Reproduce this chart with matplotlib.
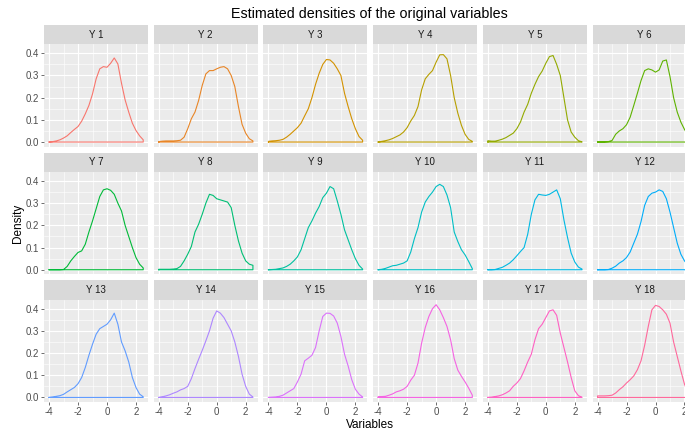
import numpy as np
import matplotlib
matplotlib.use("Agg")
import matplotlib.pyplot as plt
from matplotlib.ticker import MultipleLocator

plt.rcParams["font.family"] = ["Liberation Sans", "DejaVu Sans"]

# grid of x values the densities were read at
x_grid = [-4.0, -3.75, -3.5, -3.25, -3.0, -2.75, -2.5, -2.25, -2.0, -1.75, -1.5, -1.25, -1.0,
          -0.75, -0.5, -0.25, 0.0, 0.25, 0.5, 0.75, 1.0, 1.25, 1.5, 1.75, 2.0, 2.25, 2.5]

y1 = [0, 0.002, 0.005, 0.01, 0.018, 0.028, 0.043, 0.057, 0.07, 0.094, 0.127, 0.165, 0.217, 0.285,
      0.33, 0.34, 0.337, 0.355, 0.379, 0.352, 0.265, 0.19, 0.135, 0.085, 0.052, 0.028, 0.01]
y2 = [0.002, 0.004, 0.005, 0.005, 0.005, 0.006, 0.008, 0.022, 0.06, 0.105, 0.135, 0.187, 0.255, 0.307,
      0.322, 0.322, 0.33, 0.337, 0.34, 0.33, 0.3, 0.25, 0.16, 0.08, 0.04, 0.015, 0.005]
y3 = [0.003, 0.005, 0.006, 0.008, 0.012, 0.022, 0.035, 0.05, 0.065, 0.085, 0.118, 0.15, 0.2, 0.26,
      0.31, 0.35, 0.372, 0.37, 0.355, 0.33, 0.3, 0.22, 0.16, 0.105, 0.06, 0.025, 0.008]
y4 = [0, 0.003, 0.006, 0.01, 0.016, 0.024, 0.032, 0.045, 0.065, 0.095, 0.12, 0.16, 0.235, 0.285,
      0.305, 0.322, 0.36, 0.393, 0.394, 0.375, 0.3, 0.2, 0.13, 0.075, 0.035, 0.012, 0.003]
y5 = [0.006, 0.004, 0.004, 0.008, 0.013, 0.02, 0.03, 0.04, 0.06, 0.09, 0.135, 0.17, 0.22, 0.26,
      0.295, 0.32, 0.355, 0.385, 0.39, 0.35, 0.3, 0.2, 0.1, 0.045, 0.022, 0.006, 0.001]
y6 = [0, 0, 0.001, 0.002, 0.007, 0.035, 0.05, 0.06, 0.078, 0.112, 0.165, 0.22, 0.277, 0.322,
      0.33, 0.325, 0.315, 0.325, 0.365, 0.37, 0.295, 0.2, 0.135, 0.09, 0.057, 0.03, 0.012]
y7 = [0, 0, 0, 0, 0.001, 0.015, 0.04, 0.06, 0.078, 0.085, 0.115, 0.17, 0.22, 0.275,
      0.33, 0.36, 0.365, 0.358, 0.34, 0.3, 0.265, 0.2, 0.15, 0.1, 0.055, 0.025, 0.008]
y8 = [0.002, 0.002, 0.002, 0.002, 0.003, 0.005, 0.015, 0.04, 0.07, 0.105, 0.17, 0.205, 0.25, 0.3,
      0.34, 0.335, 0.32, 0.315, 0.31, 0.305, 0.28, 0.2, 0.13, 0.075, 0.04, 0.025, 0.02]
y9 = [0, 0.001, 0.002, 0.005, 0.008, 0.015, 0.025, 0.04, 0.058, 0.09, 0.14, 0.19, 0.22, 0.255,
      0.285, 0.325, 0.345, 0.375, 0.365, 0.31, 0.25, 0.18, 0.135, 0.09, 0.05, 0.02, 0.003]
y10 = [0, 0.002, 0.006, 0.012, 0.018, 0.02, 0.025, 0.03, 0.04, 0.08, 0.14, 0.19, 0.26, 0.305,
       0.33, 0.35, 0.375, 0.385, 0.375, 0.337, 0.28, 0.17, 0.127, 0.09, 0.067, 0.037, 0.005]
y11 = [0, 0, 0.001, 0.006, 0.011, 0.02, 0.03, 0.045, 0.063, 0.082, 0.1, 0.16, 0.25, 0.315,
       0.34, 0.337, 0.335, 0.34, 0.35, 0.36, 0.32, 0.225, 0.145, 0.075, 0.035, 0.012, 0.003]
y12 = [0, 0, 0, 0.001, 0.007, 0.016, 0.03, 0.04, 0.055, 0.08, 0.12, 0.16, 0.217, 0.29,
       0.33, 0.345, 0.35, 0.36, 0.353, 0.32, 0.26, 0.19, 0.12, 0.07, 0.04, 0.02, 0.005]
y13 = [0, 0.002, 0.005, 0.008, 0.014, 0.025, 0.035, 0.045, 0.062, 0.09, 0.135, 0.19, 0.24, 0.285,
       0.31, 0.32, 0.33, 0.35, 0.38, 0.33, 0.25, 0.21, 0.16, 0.09, 0.045, 0.015, 0.003]
y14 = [0, 0.003, 0.007, 0.012, 0.019, 0.025, 0.034, 0.04, 0.05, 0.085, 0.13, 0.172, 0.212, 0.255,
       0.3, 0.357, 0.39, 0.38, 0.36, 0.33, 0.3, 0.25, 0.185, 0.105, 0.05, 0.015, 0.002]
y15 = [0, 0.001, 0.002, 0.005, 0.01, 0.02, 0.03, 0.04, 0.07, 0.105, 0.165, 0.177, 0.19, 0.225,
       0.3, 0.365, 0.38, 0.379, 0.367, 0.335, 0.275, 0.195, 0.142, 0.08, 0.037, 0.015, 0.002]
y16 = [0.003, 0.004, 0.005, 0.01, 0.016, 0.025, 0.03, 0.037, 0.05, 0.078, 0.1, 0.155, 0.245, 0.315,
       0.365, 0.4, 0.418, 0.395, 0.36, 0.32, 0.26, 0.175, 0.123, 0.095, 0.07, 0.042, 0.01]
y17 = [0, 0.001, 0.004, 0.007, 0.012, 0.02, 0.03, 0.05, 0.065, 0.085, 0.12, 0.16, 0.195, 0.26,
       0.31, 0.33, 0.36, 0.39, 0.395, 0.37, 0.29, 0.225, 0.16, 0.09, 0.03, 0.008, 0.001]
y18 = [0.007, 0.007, 0.007, 0.008, 0.01, 0.02, 0.035, 0.048, 0.065, 0.08, 0.097, 0.125, 0.165, 0.235,
       0.32, 0.395, 0.415, 0.41, 0.395, 0.375, 0.335, 0.25, 0.185, 0.12, 0.06, 0.02, 0.005]

densities = [y1, y2, y3, y4, y5, y6, y7, y8, y9, y10, y11, y12, y13, y14, y15, y16, y17, y18]
labels = ["Y %d" % (i + 1) for i in range(len(densities))]


# ggplot default hue palette (HCL, l=65, c=100)
def hcl_to_hex(h, c=100, l=65):
    xn, yn, zn = 95.047, 100.0, 108.883
    un = 4 * xn / (xn + 15 * yn + 3 * zn)
    vn = 9 * yn / (xn + 15 * yn + 3 * zn)
    u = c * np.cos(np.radians(h))
    v = c * np.sin(np.radians(h))
    Y = yn * ((l + 16) / 116) ** 3
    up = u / (13 * l) + un
    vp = v / (13 * l) + vn
    X = Y * 9 * up / (4 * vp)
    Z = Y * (12 - 3 * up - 20 * vp) / (4 * vp)
    X, Y, Z = X / 100, Y / 100, Z / 100
    rgb = [3.2404542 * X - 1.5371385 * Y - 0.4985314 * Z,
           -0.9692660 * X + 1.8760108 * Y + 0.0415560 * Z,
           0.0556434 * X - 0.2040259 * Y + 1.0572252 * Z]
    out = []
    for ch in rgb:
        ch = 12.92 * ch if ch <= 0.0031308 else 1.055 * ch ** (1 / 2.4) - 0.055
        out.append(min(max(ch, 0), 1))
    return matplotlib.colors.to_hex(out)


n = len(densities)
colors = [hcl_to_hex(15 + 360 / n * i) for i in range(n)]

W, H = 685, 434
fig = plt.figure(figsize=(W / 100, H / 100), dpi=100)

pw, ph = 104, 102.5
strip_h = 19.3
col_left = [44 + 109.7 * k for k in range(6)]
row_top = [44.2, 171.9, 299.6]

for i, yv in enumerate(densities):
    r, c = divmod(i, 6)
    left, top = col_left[c], row_top[r]
    ax = fig.add_axes([left / W, 1 - (top + ph) / H, pw / W, ph / H])
    ax.set_facecolor("#EBEBEB")
    xs = [x_grid[0]] + x_grid + [x_grid[-1], x_grid[0]]
    ys = [0] + yv + [0, 0]
    ax.plot(xs, ys, color=colors[i], lw=0.8, solid_joinstyle="round")
    ax.set_xlim(-4.35, 2.83)
    ax.set_ylim(-0.021, 0.441)
    ax.xaxis.set_major_locator(MultipleLocator(2))
    ax.xaxis.set_minor_locator(MultipleLocator(1))
    ax.yaxis.set_major_locator(MultipleLocator(0.1))
    ax.yaxis.set_minor_locator(MultipleLocator(0.05))
    ax.grid(which="major", color="white", lw=0.8)
    ax.grid(which="minor", color="white", lw=0.4)
    ax.set_axisbelow(True)
    for s in ax.spines.values():
        s.set_visible(False)
    ax.tick_params(which="minor", length=0)
    ax.tick_params(which="major", length=2, width=0.5, color="#333333",
                   labelsize=7, labelcolor="#4D4D4D", pad=1.5)
    if c == 0:
        ax.yaxis.set_major_formatter(matplotlib.ticker.FormatStrFormatter("%.1f"))
    else:
        ax.tick_params(axis="y", which="major", length=0, labelleft=False)
    if r == 2:
        ax.xaxis.set_major_formatter(matplotlib.ticker.FormatStrFormatter("%d"))
    else:
        ax.tick_params(axis="x", which="major", length=0, labelbottom=False)

    sax = fig.add_axes([left / W, 1 - top / H, pw / W, strip_h / H])
    sax.set_facecolor("#D9D9D9")
    sax.set_xticks([])
    sax.set_yticks([])
    for s in sax.spines.values():
        s.set_visible(False)
    sax.text(0.5, 0.5, labels[i], ha="center", va="center", fontsize=7,
             color="#1A1A1A", transform=sax.transAxes)

fig.text(369 / W, 1 - 14 / H, "Estimated densities of the original variables",
         ha="center", va="center", fontsize=10.3, color="black")
fig.text(370 / W, 1 - 425 / H, "Variables", ha="center", va="center",
         fontsize=8.5, color="black")
fig.text(18 / W, 1 - 223 / H, "Density", ha="center", va="center",
         rotation=90, fontsize=8.5, color="black")

fig.savefig("out.png", dpi=100)
